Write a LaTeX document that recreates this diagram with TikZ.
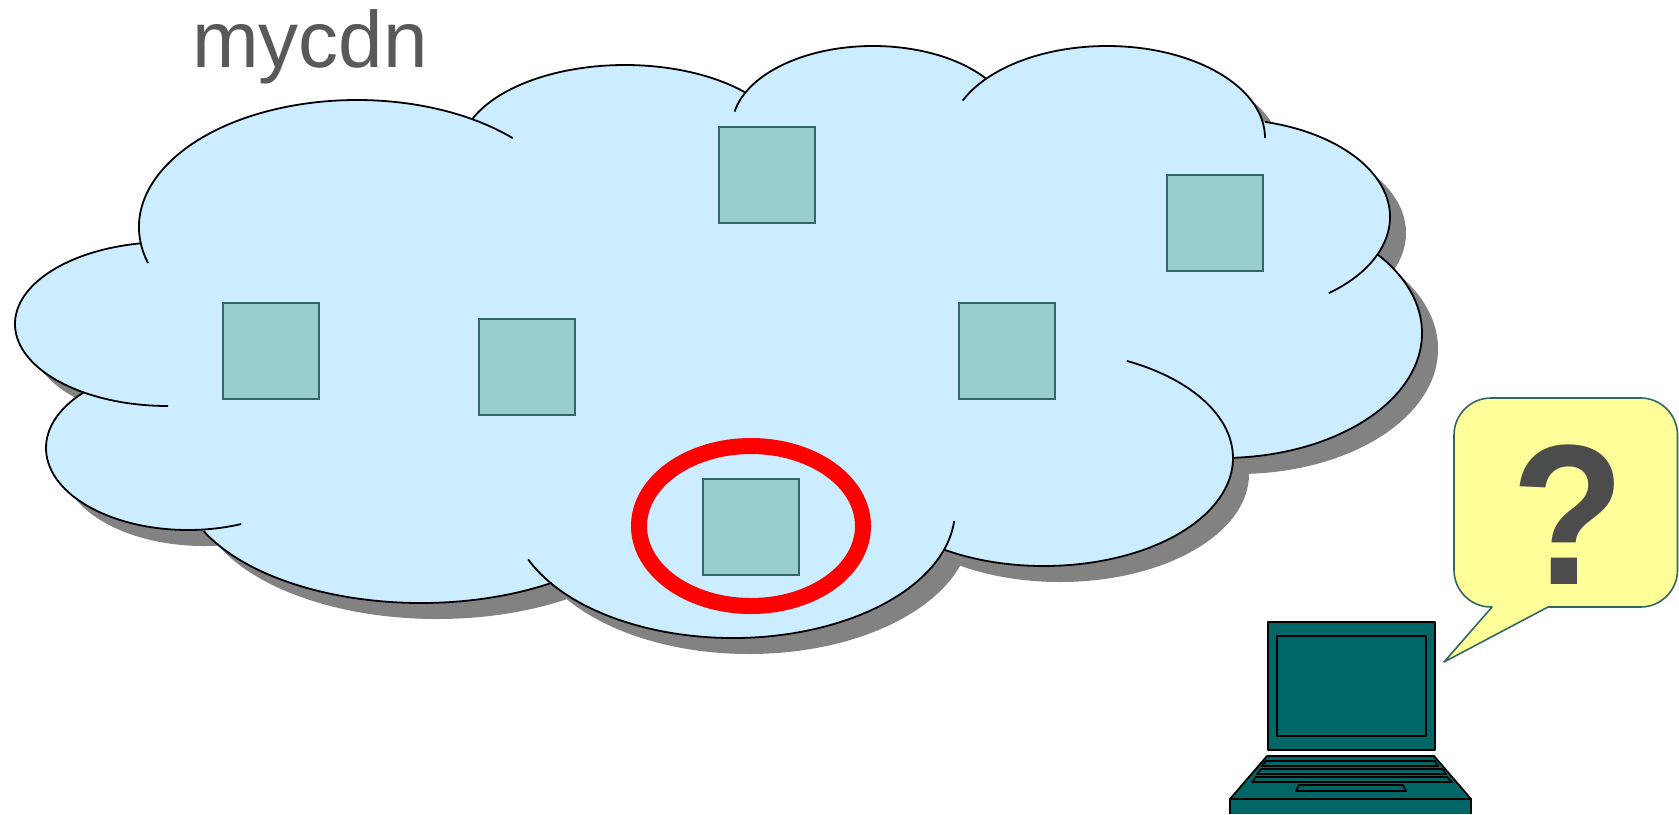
\documentclass[tikz,border=0pt]{standalone}
\usepackage{fontspec}
\setmainfont{Liberation Sans}
\usepackage{xcolor}
\usetikzlibrary{shapes.geometric}
\definecolor{cloudblue}{HTML}{CCECFF}
\definecolor{shadowgray}{HTML}{828282}
\definecolor{servergreen}{HTML}{99CCCC}
\definecolor{serveredge}{HTML}{336666}
\definecolor{bubbleyellow}{HTML}{FFFF99}
\definecolor{laptopteal}{HTML}{006666}
% lobes of the cloud: centre x/y, radii x/y, start and end of the visible arc
\def\lobes{357/227/218/127/163.5/315.6, 168/324/153/82/260/90, 188/448/142/82/222.5/68,
  421/478/240/125/155/57, 733/510/222/128/157.3/5, 1044/458/189/108/121.6/-64,
  1222/333/200/125/87/-39, 1225/217/165/98/51/-76, 1107/138/158/92/0/-156,
  873/127/141/81/-37/-169, 625/152/165/87/-158/-43}
\begin{document}
\begin{tikzpicture}[
  x=0.5pt,y=-0.5pt,
  server/.style={draw=serveredge,line width=1pt,fill=servergreen,minimum width=48pt,minimum height=48pt,inner sep=0pt},
  laptop/.style={draw=black,line width=0.9pt,fill=laptopteal,line join=round},
]
\useasboundingbox (0,0) rectangle (1679,814);
% shadow first, then the cloud on top
\begin{scope}[shift={(16,16)}]
  \foreach \cx/\cy/\rx/\ry/\from/\to in \lobes
    \fill[shadowgray] (\cx,\cy) ellipse[x radius=\rx,y radius=\ry];
\end{scope}
\foreach \cx/\cy/\rx/\ry/\from/\to in \lobes
  \fill[cloudblue] (\cx,\cy) ellipse[x radius=\rx,y radius=\ry];
\fill[cloudblue] (357,227) -- (625,152) -- (873,127) -- (1107,138) -- (1225,217) -- (1222,333)
  -- (1044,458) -- (733,510) -- (421,478) -- (188,448) -- (168,324) -- cycle;
\foreach \cx/\cy/\rx/\ry/\from/\to in \lobes
  \draw[black,line width=0.9pt] ({\cx+\rx*cos(\from)},{\cy+\ry*sin(\from)})
    arc[start angle=\from,end angle=\to,x radius=\rx,y radius=\ry];
% servers
\node[server] (top)    at (766.5,174.5) {};
\node[server] (right)  at (1215,222.5) {};
\node[server] (left)   at (270.5,351) {};
\node[server] (middle) at (526.5,366.5) {};
\node[server] (east)   at (1007,351) {};
\node[server] (chosen) at (750.5,527) {};
\node[draw=red,line width=8pt,ellipse,minimum width=112pt,minimum height=80pt,inner sep=0pt] (ring) at (751,526) {};
\node[anchor=base,text=black!65,font=\fontsize{40}{40}\selectfont,inner sep=0pt] (name) at (310,67) {mycdn};
% speech bubble
\draw[draw=serveredge,line width=0.8pt,fill=bubbleyellow,line join=round]
  (1444,662) -- (1548,607) -- (1640.5,607) arc[start angle=90,end angle=0,radius=37]
  -- (1677.5,435) arc[start angle=0,end angle=-90,radius=37]
  -- (1491,398) arc[start angle=-90,end angle=-180,radius=37]
  -- (1454,570) arc[start angle=180,end angle=90,radius=37] -- (1492,607) -- cycle;
\node[anchor=base,text=black!70,font=\fontsize{100}{100}\selectfont\bfseries,inner sep=0pt] (question) at (1568,584) {\scalebox{0.93}[1]{?}};
% laptop
\draw[laptop] (1268,622) rectangle (1435,750);
\draw[laptop] (1277,636) rectangle (1426,736);
\draw[laptop] (1230,799) -- (1267,756) -- (1434,756) -- (1471,799) -- cycle;
\fill[laptopteal] (1230,799) rectangle (1471,814);
\draw[laptop,fill=none] (1230,814) -- (1230,799) -- (1471,799) -- (1471,814);
\draw[laptop] (1262,766) -- (1266,761) -- (1435,761) -- (1438,766) -- cycle;
\draw[laptop] (1257,774) -- (1261,769) -- (1442,769) -- (1446,774) -- cycle;
\draw[laptop] (1252,782) -- (1256,777) -- (1447,777) -- (1452,782) -- cycle;
\draw[laptop] (1296,791) -- (1299,785) -- (1403,785) -- (1406,791) -- cycle;
\end{tikzpicture}
\end{document}
